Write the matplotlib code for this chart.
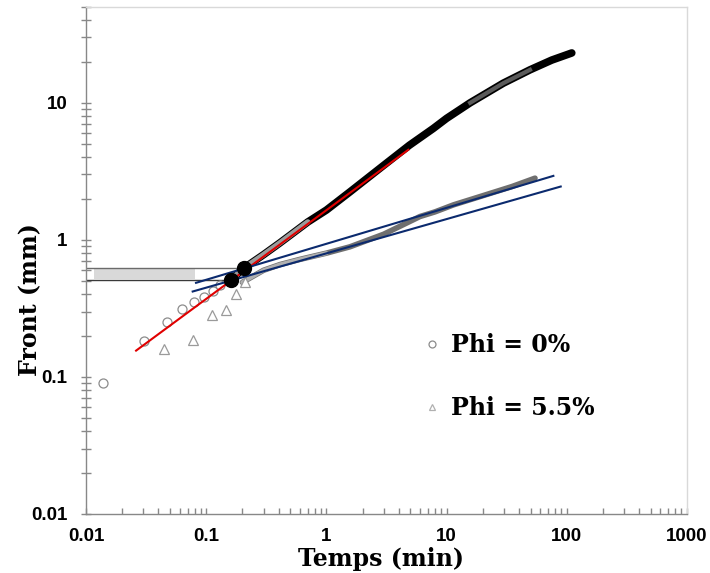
import matplotlib
matplotlib.use("Agg")
import matplotlib.pyplot as plt
from matplotlib.lines import Line2D

# ---- data ----
# early sparse points
phi0_x = [0.0139, 0.0304, 0.047, 0.063, 0.0796, 0.0964, 0.113, 0.130]
phi0_y = [0.090, 0.183, 0.252, 0.311, 0.355, 0.386, 0.427, 0.47]
phi55_x = [0.0448, 0.078, 0.111, 0.146, 0.177, 0.210]
phi55_y = [0.160, 0.186, 0.284, 0.308, 0.401, 0.491]

# dense measured curves
upper_x = [0.16, 0.205, 0.3, 0.41, 0.7, 1.0, 1.57, 3.0, 4.9, 7.75, 10.0, 15.7, 29.6, 49.4, 75.0, 110.0]
upper_y = [0.51, 0.62, 0.78, 0.95, 1.35, 1.65, 2.24, 3.5, 4.9, 6.5, 7.7, 10.0, 13.9, 17.4, 20.5, 23.1]
lower_x = [0.2, 0.3, 0.41, 0.6, 1.0, 1.57, 3.0, 6.0, 8.0, 11.4, 20.0, 35.0, 54.4]
lower_y = [0.49, 0.6, 0.66, 0.72, 0.80, 0.89, 1.1, 1.48, 1.6, 1.80, 2.1, 2.45, 2.82]

# fit lines (endpoints)
red_x = [0.0261, 4.80]
red_y = [0.1556, 4.54]
blueU_x = [0.0823, 77.3]
blueU_y = [0.486, 2.93]
blueL_x = [0.0772, 89.0]
blueL_y = [0.42, 2.45]

# intersection markers and reference levels
dots_x = [0.161, 0.2075]
dots_y = [0.511, 0.625]
box_x = [0.0117, 0.0808]
box_y = [0.517, 0.61]

fig = plt.figure(figsize=(7.1, 5.73), dpi=100)
ax = fig.add_axes([86/710, 59/573, (687-86)/710, (514-7)/573])
ax.set_xscale('log')
ax.set_yscale('log')
ax.set_xlim(0.01, 1000)
ax.set_ylim(0.01, 50)

# reference levels
ax.plot([0.01, dots_x[1]], [dots_y[1]]*2, color='#6b6b6b', lw=1.0, zorder=2)
ax.plot([0.01, dots_x[0]], [dots_y[0]]*2, color='#3a3a3a', lw=1.0, zorder=2)
ax.fill_between(box_x, [box_y[0]]*2, [box_y[1]]*2, color='#d9d9d9', lw=0, zorder=1)

# dense curves
ax.plot(lower_x, lower_y, color='#6f6f6f', lw=4.0, solid_capstyle='round', zorder=3)
ax.plot(lower_x[:5], lower_y[:5], color='#b0b0b0', lw=3.0, solid_capstyle='round', zorder=3)
ax.plot(upper_x, upper_y, color='#000000', lw=5.5, solid_capstyle='round', zorder=3)
ax.plot(upper_x[:5], upper_y[:5], color='#9a9a9a', lw=4.0, solid_capstyle='round', zorder=3)
ax.plot(upper_x[11:14], upper_y[11:14], color='#5a5a5a', lw=3.0, zorder=3)

# sparse points
ax.plot(phi0_x, phi0_y, 'o', ms=6.5, mfc='white', mec='#8c8c8c', mew=0.9, zorder=4)
ax.plot(phi55_x, phi55_y, '^', ms=6.5, mfc='white', mec='#9a9a9a', mew=0.9, zorder=4)

# fit lines
ax.plot(red_x, red_y, color='#e00000', lw=1.5, zorder=5)
ax.plot(blueU_x, blueU_y, color='#0b2a6e', lw=1.5, zorder=5)
ax.plot(blueL_x, blueL_y, color='#0b2a6e', lw=1.5, zorder=5)

ax.plot(dots_x, dots_y, 'o', ms=10, color='black', zorder=6)

# spines & ticks
for s in ['left', 'bottom']:
    ax.spines[s].set_color('#888888')
    ax.spines[s].set_linewidth(1.0)
for s in ['top', 'right']:
    ax.spines[s].set_color('#d9d9d9')
    ax.spines[s].set_linewidth(1.0)

ax.set_xticks([0.01, 0.1, 1, 10, 100, 1000])
ax.set_xticklabels(['0.01', '0.1', '1', '10', '100', '1000'])
ax.set_yticks([0.01, 0.1, 1, 10])
ax.set_yticklabels(['0.01', '0.1', '1', '10'])
ax.tick_params(axis='x', which='both', direction='in', length=4, width=1, color='#888888',
               pad=10, labelsize=13.5)
ax.tick_params(axis='y', which='both', direction='inout', length=7, width=1, color='#888888',
               pad=10, labelsize=13.5)
for lab in ax.get_xticklabels() + ax.get_yticklabels():
    lab.set_fontfamily('Liberation Sans')
    lab.set_fontweight('bold')

fig.text(0.537, 0.025, 'Temps (min)', ha='center', va='center', family='DejaVu Serif',
         weight='bold', fontsize=17)
fig.text(0.042, 0.478, 'Front (mm)', ha='center', va='center', rotation=90,
         family='DejaVu Serif', weight='bold', fontsize=17)

handles = [Line2D([], [], ls='none', marker='o', ms=5, mfc='white', mec='#8c8c8c', mew=0.9),
           Line2D([], [], ls='none', marker='^', ms=5, mfc='white', mec='#b0b0b0', mew=0.9)]
ax.legend(handles, ['Phi = 0%', 'Phi = 5.5%'], loc='upper left',
          bbox_to_anchor=(404/710, 1 - 312/573), bbox_transform=fig.transFigure,
          frameon=False, handlelength=0.6, handletextpad=0.5, labelspacing=1.65,
          prop={'family': 'DejaVu Serif', 'weight': 'bold', 'size': 17})

fig.savefig('out.png', dpi=100)
